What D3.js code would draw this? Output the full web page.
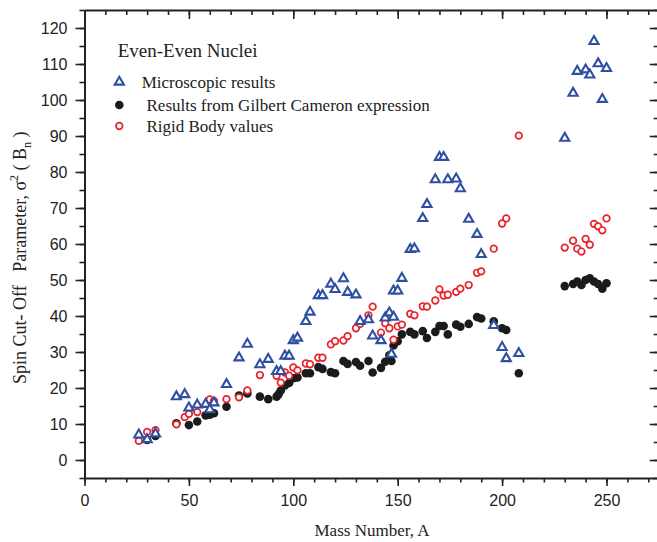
<!DOCTYPE html>
<html>
<head>
<meta charset="utf-8">
<script src="https://cdn.jsdelivr.net/npm/d3@7"></script>
<style>
  body { margin: 0; background: #fff; }
  svg { display: block; }
  .tick text { font-family: "Liberation Sans", Arial, sans-serif; font-size: 16px; fill: #222; }
  .serif { font-family: "Liberation Serif", "Times New Roman", serif; fill: #222; }
</style>
</head>
<body>
<div id="chart"></div>
<script>
// microscopic results (blue triangles)
const microA = [26,30,34,44,48,50,54,58,60,62,68,74,78,84,88,92,94,96,98,100,102,106,108,112,114,118,120,124,126,130,132,136,138,142,144,146,148,147,148,150,152,156,158,162,164,168,170,172,174,178,180,184,188,190,196,200,202,208,230,234,236,240,242,244,246,248,250];
const microSigma = [7.0,5.7,7.3,17.6,18.2,14.5,15.3,15.5,14.0,15.9,21.0,28.4,32.2,26.5,28.0,24.6,24.6,28.9,28.9,33.2,33.9,38.5,41.1,45.7,45.7,48.9,47.4,50.4,46.6,45.9,38.5,39.0,34.5,33.2,39.5,40.9,39.7,29.4,47.0,47.0,50.5,58.5,58.7,67.1,71.0,77.9,84.1,84.1,77.9,78.1,75.4,66.9,62.7,57.1,37.4,31.3,28.2,29.6,89.4,101.9,108.0,108.4,107.0,116.3,110.1,100.2,108.8];

// Gilbert Cameron expression (black dots)
const gcA = [30,34,44,50,54,58,60,62,68,74,78,84,88,92,93,94,96,98,100,102,106,108,112,114,118,120,124,126,130,132,136,138,142,144,146,147,148,149,150,152,156,158,162,164,168,170,172,174,178,180,184,188,190,196,200,202,208,230,234,236,238,240,242,244,246,248,250];
const gcSigma = [5.6,6.7,10.2,9.7,10.7,12.4,12.6,13.0,14.8,17.9,18.5,17.6,16.9,17.6,18.3,19.3,20.7,21.4,22.7,22.9,24.1,24.1,25.8,25.3,24.4,24.1,27.5,26.7,27.2,26.2,27.5,24.3,25.6,27.3,29.1,27.5,31.8,32.8,33.0,34.9,35.6,34.9,35.8,33.9,35.6,37.2,37.2,34.9,37.6,37.0,37.8,39.7,39.3,38.5,36.6,36.1,24.1,48.3,48.9,49.6,48.6,50.0,50.5,49.6,48.9,47.6,49.1];

// rigid body values (red circles)
const rigidA = [26,30,34,44,48,50,54,60,62,68,74,78,84,92,94,96,98,100,102,106,108,112,114,118,120,124,126,130,132,136,138,142,144,146,148,150,152,156,158,162,164,168,170,172,174,178,180,184,188,190,196,200,202,208,230,234,236,238,240,242,244,246,248,250];
const rigidSigma = [5.3,7.8,8.3,9.9,11.9,12.8,13.3,16.8,16.4,16.9,17.4,19.3,23.6,23.4,21.5,24.3,23.4,25.7,24.9,26.8,26.6,28.4,28.4,32.1,33.0,33.2,34.4,36.6,37.8,40.2,42.6,35.4,38.0,36.6,33.4,37.1,37.6,40.6,40.2,42.7,42.6,44.3,47.4,45.7,45.9,46.7,47.6,48.6,52.0,52.4,58.7,65.7,67.1,90.1,59.0,60.9,58.7,57.9,61.4,59.8,65.6,64.9,63.8,67.1];

const xTicks = [0,50,100,150,200,250];
const yTicks = [0,10,20,30,40,50,60,70,80,90,100,110,120];

const width = 657;
const height = 542;
const margin = {top: 10, left: 84.5, bottom: 64, right: -1.7};

const blue = '#2f4fa2', red = '#e8222b', black = '#1b1b1b';

const x = d3.scaleLinear().domain([0, 275]).range([margin.left, width - margin.right]);
const y = d3.scaleLinear().domain([-5, 125]).range([height - margin.bottom, margin.top]);

const svg = d3.select('#chart').append('svg').attr('width', width).attr('height', height);

const xMinor = d3.range(0, 275, 10);
const yMinor = d3.range(-5, 126, 5);

function styleAxis(g) {
    g.select('.domain').attr('stroke', '#222').attr('stroke-width', 2);
    g.selectAll('.tick line').attr('stroke', '#222').attr('stroke-width', 1.6);
}

// bottom
svg.append('g').attr('transform', `translate(0,${y(-5)})`)
    .call(d3.axisBottom(x).tickValues(xMinor).tickSize(4.5).tickFormat(''))
    .call(g => g.select('.domain').remove())
    .call(styleAxis);
svg.append('g').attr('transform', `translate(0,${y(-5)})`)
    .call(d3.axisBottom(x).tickValues(xTicks).tickSize(8).tickSizeOuter(0).tickPadding(9))
    .call(styleAxis);

// top (inward)
svg.append('g').attr('transform', `translate(0,${y(125)})`)
    .call(d3.axisBottom(x).tickValues(xMinor).tickSize(5).tickFormat(''))
    .call(g => g.select('.domain').remove())
    .call(styleAxis);
svg.append('g').attr('transform', `translate(0,${y(125)})`)
    .call(d3.axisBottom(x).tickValues(xTicks).tickSize(9).tickSizeOuter(0).tickFormat(''))
    .call(styleAxis);

// left
svg.append('g').attr('transform', `translate(${x(0)},0)`)
    .call(d3.axisLeft(y).tickValues(yMinor).tickSize(5).tickFormat(''))
    .call(g => g.select('.domain').remove())
    .call(styleAxis);
svg.append('g').attr('transform', `translate(${x(0)},0)`)
    .call(d3.axisLeft(y).tickValues(yTicks).tickSize(9).tickSizeOuter(0).tickPadding(8))
    .call(styleAxis);

// right (inward)
svg.append('g').attr('transform', `translate(${x(275)},0)`)
    .call(d3.axisRight(y).tickValues(yMinor).tickSize(-5).tickFormat(''))
    .call(g => g.select('.domain').remove())
    .call(styleAxis);
svg.append('g').attr('transform', `translate(${x(275)},0)`)
    .call(d3.axisRight(y).tickValues(yTicks).tickSize(-9).tickSizeOuter(0).tickFormat(''))
    .call(styleAxis);

// data
const gcData = gcA.map((a, i) => ({a, s: gcSigma[i]}));
const rigidData = rigidA.map((a, i) => ({a, s: rigidSigma[i]}));
const microData = microA.map((a, i) => ({a, s: microSigma[i]}));

svg.append('g').selectAll('circle').data(gcData).enter().append('circle')
    .attr('cx', d => x(d.a)).attr('cy', d => y(d.s)).attr('r', 4.3)
    .attr('fill', black);

svg.append('g').selectAll('circle').data(rigidData).enter().append('circle')
    .attr('cx', d => x(d.a)).attr('cy', d => y(d.s)).attr('r', 3.3)
    .attr('fill', '#fff').attr('stroke', red).attr('stroke-width', 1.7);

const tri = d3.symbol(d3.symbolTriangle, 36);
svg.append('g').selectAll('path').data(microData).enter().append('path')
    .attr('d', tri)
    .attr('transform', d => `translate(${x(d.a)},${y(d.s)})`)
    .attr('fill', '#fff').attr('stroke', blue).attr('stroke-width', 2.1);

// legend
const lg = svg.append('g');
lg.append('text').attr('class', 'serif').attr('x', 117.7).attr('y', 57)
    .style('font-size', '19px').text('Even-Even Nuclei');
lg.append('path').attr('d', tri).attr('transform', 'translate(119.3,82)')
    .attr('fill', '#fff').attr('stroke', blue).attr('stroke-width', 2.1);
lg.append('text').attr('class', 'serif').attr('x', 141.7).attr('y', 88)
    .style('font-size', '17px').text('Microscopic results');
lg.append('circle').attr('cx', 119.3).attr('cy', 105).attr('r', 4.3).attr('fill', black);
lg.append('text').attr('class', 'serif').attr('x', 146.5).attr('y', 110.7)
    .style('font-size', '17px').text('Results from Gilbert Cameron expression');
lg.append('circle').attr('cx', 119.3).attr('cy', 126).attr('r', 3.3)
    .attr('fill', '#fff').attr('stroke', red).attr('stroke-width', 1.7);
lg.append('text').attr('class', 'serif').attr('x', 146.5).attr('y', 131.7)
    .style('font-size', '17px').text('Rigid Body values');

// axis titles
svg.append('text').attr('class', 'serif')
    .attr('x', 372).attr('y', 536).attr('text-anchor', 'middle')
    .style('font-size', '17px').text('Mass Number, A');

const yl = svg.append('text').attr('class', 'serif')
    .attr('transform', 'translate(26,384) rotate(-90)')
    .style('font-size', '18px').style('white-space', 'pre');
yl.append('tspan').text('Spin Cut- Off   Parameter, \u03c3');
yl.append('tspan').attr('dy', -8).style('font-size', '12px').text('2');
yl.append('tspan').attr('dy', 8).text(' ( B');
yl.append('tspan').attr('dy', 5).style('font-size', '12px').text('n');
yl.append('tspan').attr('dy', -5).text(' )');
</script>
</body>
</html>
